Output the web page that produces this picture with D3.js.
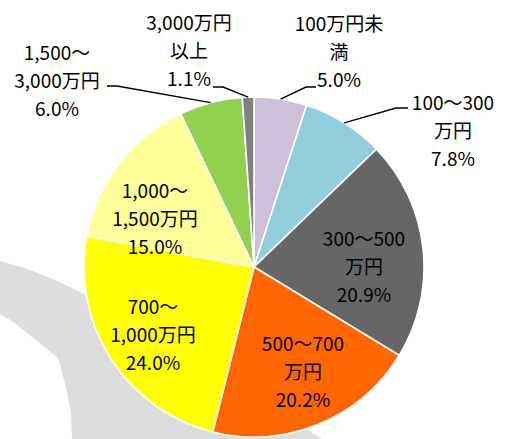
<!DOCTYPE html>
<html><head><meta charset="utf-8">
<script src="https://cdn.jsdelivr.net/npm/d3@7"></script>
<style>html,body{margin:0;padding:0;background:#fff;}svg{display:block;}</style>
</head><body>
<svg id="chart" width="512" height="439"></svg>
<script>
// ---- data ----
const categories = ["100万円未満","100～300万円","300～500万円","500～700万円","700～1,000万円","1,000～1,500万円","1,500～3,000万円","3,000万円以上"];
const labelLines = [["100万円未","満"],["100～300","万円"],["300～500","万円"],["500～700","万円"],["700～","1,000万円"],["1,000～","1,500万円"],["1,500～","3,000万円"],["3,000万円","以上"]];
const values = [5.0, 7.8, 20.9, 20.2, 24.0, 15.0, 6.0, 1.1];
const colors = ["#ccc0da","#92cddc","#666666","#ff6600","#ffff00","#ffff99","#92d050","#808080"];

// ---- layout ----
const W = 512, H = 439;
const cx = 254, cy = 267, R = 170;
const lineH = 28;
// label anchor (centre of middle text line) for each slice
const labelPos = [[339,50],[453,129],[364,265],[303,370],[153,333],[155,217],[57,79],[189,49]];
// leader line: elbow point and end point
const leaders = {
  0: [[306,87],[316,87]],
  1: [[396,108],[408,108]],
  6: [[117,86],[107,86]],
  7: [[223,87],[213,87]]
};

const svg = d3.select("#chart");

// decorative grey background shape
const bgShape = [[0,261],[25,268],[55,280],[90,297],[150,330],[260,400],[322,439],[72,439],[71,412],[65,384],[58,358],[36,340],[12,321],[0,314]];
svg.append("path").attr("d", d3.line()(bgShape) + "Z").attr("fill", "#dddddd");

const pie = d3.pie().sort(null).value(d => d)(values);
const arc = d3.arc().innerRadius(0).outerRadius(R);
const g = svg.append("g").attr("transform", `translate(${cx},${cy})`);
g.selectAll("path.slice").data(pie).join("path")
  .attr("class","slice")
  .attr("d", arc)
  .attr("fill", (d,i) => colors[i])
  .attr("stroke", "#fff").attr("stroke-width", 1.6);

// leader lines
const edgeArc = d3.arc().innerRadius(R).outerRadius(R);
Object.keys(leaders).forEach(k => {
  const i = +k;
  const c = edgeArc.centroid(pie[i]);
  const pts = [[cx + c[0], cy + c[1]], ...leaders[k]];
  svg.append("path").attr("d", d3.line()(pts))
    .attr("fill","none").attr("stroke","#000").attr("stroke-width",1.4);
});

// labels
const fmt = v => v.toFixed(1) + "%";
labelLines.forEach((lines, i) => {
  const all = lines.concat([fmt(values[i])]);
  const [lx, ly] = labelPos[i];
  const t = svg.append("text")
    .attr("font-family", "'Noto Sans CJK JP','Noto Sans',sans-serif")
    .attr("font-size", 19)
    .attr("fill", "#000")
    .attr("text-anchor", "middle");
  all.forEach((s, j) => {
    t.append("tspan").attr("x", lx).attr("y", ly + (j - 1) * lineH)
      .attr("dominant-baseline", "central").text(s);
  });
});
</script>
</body></html>
